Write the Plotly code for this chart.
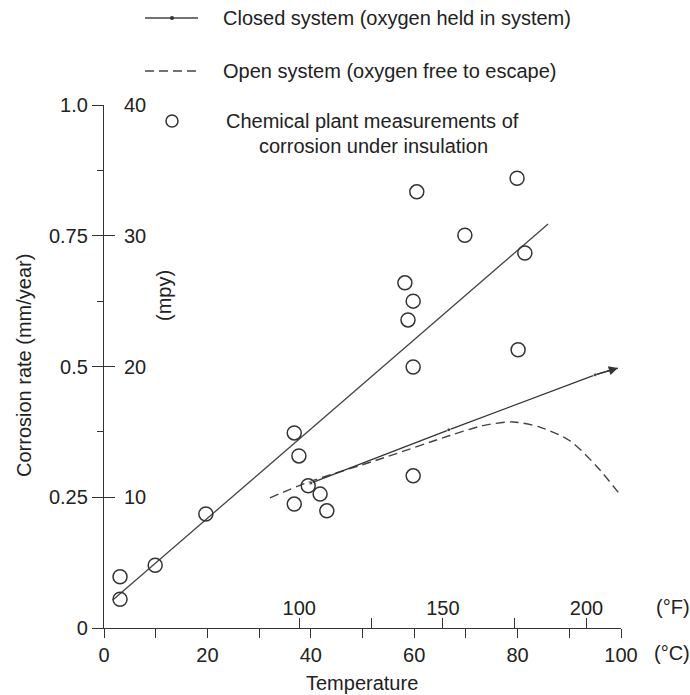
import plotly.graph_objects as go

# --- data ---
temp_c = [3.1, 3.1, 9.9, 19.7, 36.8, 37.7, 36.8, 39.5, 41.8, 43.1,
          60.5, 58.2, 58.8, 59.8, 59.8, 59.8, 69.8, 79.9, 81.4, 80.1]
rate_mm = [0.055, 0.098, 0.120, 0.218, 0.373, 0.329, 0.237, 0.272, 0.256, 0.224,
           0.834, 0.660, 0.589, 0.625, 0.499, 0.291, 0.751, 0.860, 0.717, 0.532]

closed_fit_x = [1.7, 85.9]
closed_fit_y = [0.0535, 0.7725]

closed_arrow_x = [40.0, 66.7, 95.0, 99.4]
closed_arrow_y = [0.277, 0.379, 0.484, 0.497]

open_x = [32.1, 39.3, 54.0, 66.9, 73.3, 79.1, 84.3, 90.1, 95.4, 100.2]
open_y = [0.249, 0.278, 0.325, 0.368, 0.387, 0.394, 0.384, 0.358, 0.308, 0.250]

c_ticks = [0, 10, 20, 30, 40, 50, 60, 70, 80, 90, 100]
c_labels = ["0", "", "20", "", "40", "", "60", "", "80", "", "100"]
f_ticks = [100, 125, 150, 175, 200]
f_labels = ["100", "", "150", "", "200"]
mm_ticks = [0, 0.25, 0.5, 0.75, 1.0]
mm_labels = ["0", "0.25", "0.5", "0.75", "1.0"]
mm_minor = [0.375, 0.625, 0.875]
mpy_ticks = [10, 20, 30, 40]
mpy_labels = ["10", "20", "30", "40"]

FONT = "Liberation Sans, Arial, sans-serif"
TXT = "#222222"
LINE = "#333333"
FS = 20

W, H = 690, 695
L, R, T, B = 104, 69, 105, 67
PW, PH = W - L - R, H - T - B


def px(xp):
    return (xp - L) / PW


def py(yp):
    return (H - B - yp) / PH


fig = go.Figure()

fig.add_trace(go.Scatter(x=closed_fit_x, y=closed_fit_y, mode="lines",
                         line=dict(color="#444444", width=1.3),
                         showlegend=False, cliponaxis=False))
fig.add_trace(go.Scatter(x=open_x, y=open_y, mode="lines",
                         line=dict(color="#444444", width=1.4, dash="9px,5px",
                                   shape="spline", smoothing=0.8),
                         showlegend=False, cliponaxis=False))
fig.add_trace(go.Scatter(x=closed_arrow_x, y=closed_arrow_y, mode="lines+markers",
                         line=dict(color=LINE, width=1.3),
                         marker=dict(size=[4, 4, 4, 0], color=LINE),
                         showlegend=False, cliponaxis=False))
fig.add_trace(go.Scatter(x=temp_c, y=rate_mm, mode="markers",
                         marker=dict(symbol="circle-open", size=14,
                                     color="#333333", line=dict(width=1.5)),
                         showlegend=False, cliponaxis=False))

annotations = []
# arrowhead
annotations.append(dict(x=closed_arrow_x[-1], y=closed_arrow_y[-1], xref="x", yref="y",
                        ax=closed_arrow_x[-2], ay=closed_arrow_y[-2], axref="x", ayref="y",
                        text="", showarrow=True, arrowhead=2, arrowsize=1.4,
                        arrowwidth=1.3, arrowcolor=LINE))

def txt(x, y, s, xanchor="center", angle=0):
    annotations.append(dict(x=px(x), y=py(y), xref="paper", yref="paper", text=s,
                            showarrow=False, xanchor=xanchor, yanchor="middle",
                            textangle=angle, font=dict(family=FONT, size=FS, color=TXT)))

txt(362, 683, "Temperature")
txt(652, 653, "(°C)", xanchor="left")
txt(654, 607, "(°F)", xanchor="left")
txt(24, 366, "Corrosion rate (mm/year)", angle=-90)
txt(164, 296, "(mpy)", angle=-90)
txt(221, 18, "Closed system (oxygen held in system)", xanchor="left")
txt(221, 71, "Open system (oxygen free to escape)", xanchor="left")
txt(372, 121, "Chemical plant measurements of")
txt(373, 146, "corrosion under insulation")

# mpy tick labels (right of the shared vertical axis line)
for v, s in zip(mpy_ticks, mpy_labels):
    annotations.append(dict(x=px(122), y=v, xref="paper", yref="y2", text=s,
                            showarrow=False, xanchor="left", yanchor="middle",
                            font=dict(family=FONT, size=FS, color=TXT)))

shapes = [
    dict(type="line", xref="paper", yref="paper", x0=px(145), x1=px(198), y0=py(18), y1=py(18),
         line=dict(color="#444444", width=1.3)),
    dict(type="circle", xref="paper", yref="paper", xsizemode="pixel", ysizemode="pixel",
         xanchor=px(172), yanchor=py(18), x0=-2, x1=2, y0=-2, y1=2,
         fillcolor=LINE, line=dict(color=LINE, width=0)),
    dict(type="line", xref="paper", yref="paper", x0=px(145), x1=px(198), y0=py(71), y1=py(71),
         line=dict(color="#444444", width=1.4, dash="9px,5px")),
    dict(type="circle", xref="paper", yref="paper", xsizemode="pixel", ysizemode="pixel",
         xanchor=px(172), yanchor=py(121), x0=-6, x1=6, y0=-6, y1=6,
         line=dict(color="#333333", width=1.5)),
]

fig.update_layout(
    width=W, height=H,
    margin=dict(l=L, r=R, t=T, b=B, pad=0),
    paper_bgcolor="white", plot_bgcolor="white",
    font=dict(family=FONT, size=FS, color=TXT),
    showlegend=False,
    annotations=annotations,
    shapes=shapes,
    xaxis=dict(range=[0, 100], showgrid=False, zeroline=False, showline=True,
               linecolor=LINE, linewidth=1.3, ticks="outside", ticklen=9,
               tickwidth=1.3, tickcolor=LINE, tickvals=c_ticks, ticktext=c_labels,
               tickfont=dict(size=FS, color=TXT)),
    xaxis2=dict(range=[32, 212], overlaying="x", anchor="y", side="bottom",
                showgrid=False, zeroline=False, showline=False,
                ticks="inside", ticklen=10, tickwidth=1.3, tickcolor=LINE,
                tickvals=f_ticks, ticktext=f_labels, ticklabelposition="inside",
                tickfont=dict(size=FS, color=TXT)),
    yaxis=dict(range=[0, 1.0], showgrid=False, zeroline=False, showline=True,
               linecolor=LINE, linewidth=1.3, ticks="outside", ticklen=11,
               tickwidth=1.3, tickcolor=LINE, tickvals=mm_ticks, ticktext=mm_labels,
               tickfont=dict(size=FS, color=TXT),
               minor=dict(tickvals=mm_minor, ticks="outside", ticklen=6,
                          tickwidth=1.3, tickcolor=LINE)),
    yaxis2=dict(range=[0, 40], overlaying="y", anchor="x", side="left",
                showgrid=False, zeroline=False, showline=False,
                ticks="inside", ticklen=11, tickwidth=1.3, tickcolor=LINE,
                tickvals=mpy_ticks, showticklabels=False),
)

# invisible trace to activate the secondary axes
fig.add_trace(go.Scatter(x=[32], y=[0], xaxis="x2", yaxis="y2", mode="markers",
                         marker=dict(opacity=0), showlegend=False, hoverinfo="skip"))

fig.write_html("out.html")
